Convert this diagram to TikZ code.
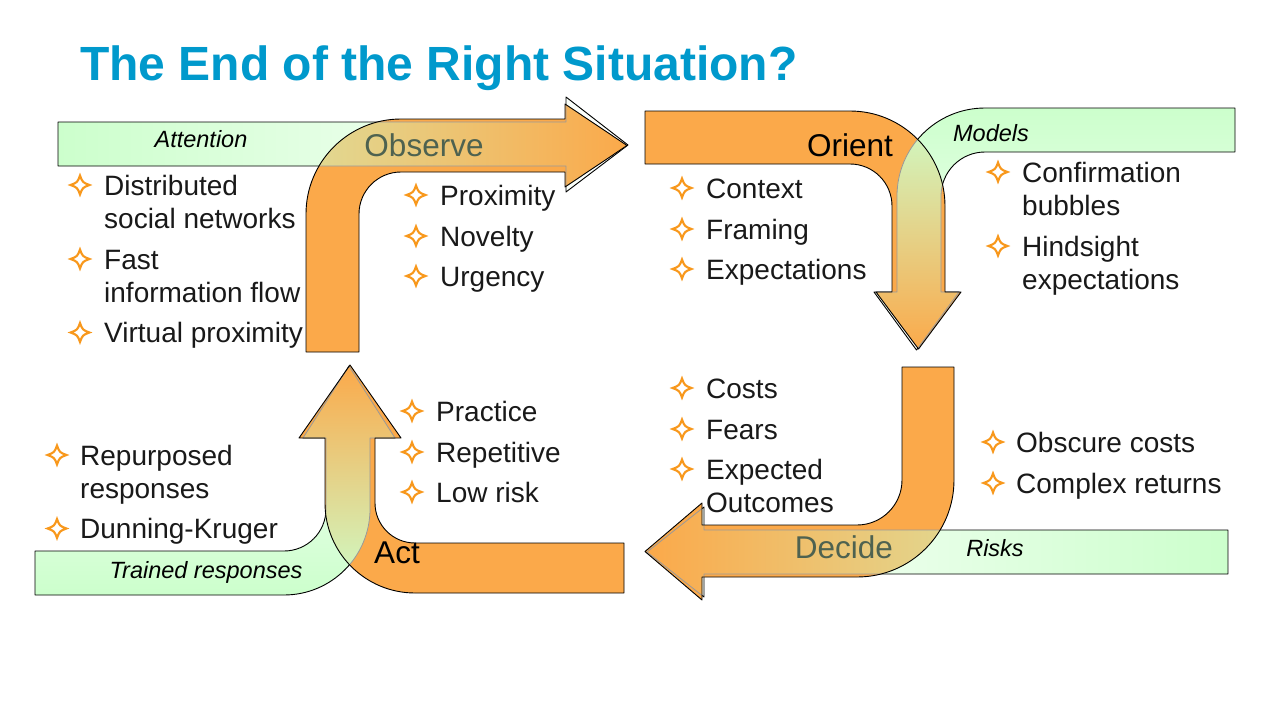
\documentclass[tikz,border=0pt]{standalone}
\usepackage{fontspec}
\setmainfont{Liberation Sans}
\definecolor{org}{RGB}{251,169,74}
\definecolor{grn}{RGB}{204,255,204}
\definecolor{ttl}{RGB}{0,153,204}
\definecolor{starc}{RGB}{248,152,28}
\definecolor{txt}{RGB}{25,25,25}
\definecolor{fadedtxt}{RGB}{78,98,80}
\begin{document}
\begin{tikzpicture}[x=1pt,y=-1pt,
  lbl/.style={font=\fontsize{28}{34}\selectfont, text=txt, anchor=base west, inner sep=0pt},
  tag/.style={font=\fontsize{23.5}{28}\selectfont\itshape, text=black, anchor=base, inner sep=0pt},
  stage/.style={font=\fontsize{31.5}{36}\selectfont, anchor=base, inner sep=0pt},
  outl/.style={draw=black, line width=0.9pt, line join=round},
  ghost/.style={draw=black!40, line width=0.8pt, line join=round},
  starpic/.pic={\draw[starc, line width=2.1pt, line join=miter, miter limit=4]
     (0,-9.5) .. controls (2.6,-2.6) .. (9.5,0) .. controls (2.6,2.6) .. (0,9.5)
     .. controls (-2.6,2.6) .. (-9.5,0) .. controls (-2.6,-2.6) .. (0,-9.5) -- cycle;}]
\useasboundingbox (0,0) rectangle (1280,720);
\fill[white] (0,0) rectangle (1280,720);

% ---------- shape outlines ----------
\def\pObs{(306,352) -- (306,214) arc[start angle=180,end angle=270,radius=95] -- (565,119) -- (565,104) -- (627,145.5) -- (565,187) -- (565,172) -- (401,172) arc[start angle=270,end angle=180,radius=42] -- (359,352) -- cycle}
\def\gAtt{(58,122) -- (566,122) -- (566,97) -- (628,145) -- (566,192) -- (566,166) -- (58,166) -- cycle}
\def\pOri{(645,111) -- (850,111) arc[start angle=270,end angle=360,radius=95] -- (945,292) -- (961,292) -- (918.5,349) -- (876,292) -- (892,292) -- (892,206) arc[start angle=0,end angle=-90,radius=42] -- (645,164) -- cycle}
\def\gMod{(1235,108) -- (985,108) arc[start angle=270,end angle=180,radius=88] -- (897,292) -- (874,292) -- (916.5,350) -- (959,292) -- (941,292) -- (941,196) arc[start angle=180,end angle=270,radius=44] -- (1235,152) -- cycle}
\def\pDec{(902,367) -- (954,367) -- (954,480) arc[start angle=0,end angle=90,radius=97] -- (702,577) -- (702,600) -- (645,551.5) -- (702,503) -- (702,525) -- (857,525) arc[start angle=90,end angle=0,radius=45] -- cycle}
\def\gRis{(1228,530) -- (704,530) -- (704,507) -- (647,552) -- (704,597) -- (704,574) -- (1228,574) -- cycle}
\def\pAct{(624,543) -- (415,543) arc[start angle=90,end angle=180,radius=40] -- (375,438) -- (401,438) -- (350,365) -- (299,438) -- (325,438) -- (325,503) arc[start angle=180,end angle=90,radius=90] -- (624,593) -- cycle}
\def\gTra{(35,551) -- (284,551) arc[start angle=90,end angle=0,radius=42] -- (326,438) -- (303,438) -- (349,366) -- (395,438) -- (370,438) -- (370,509) arc[start angle=0,end angle=90,radius=86] -- (35,595) -- cycle}

% ---------- Observe / Attention ----------
\begin{scope}\clip \gAtt; \shade[left color=grn,right color=white] (58,90) rectangle (628,200);\end{scope}
\draw[outl] \gAtt;
\fill[org] \pObs;
\begin{scope}\clip \gAtt; \clip \pObs; \shade[left color=grn,right color=org] (58,90) rectangle (628,200);\end{scope}
\begin{scope}\clip \pObs; \draw[ghost] \gAtt;\end{scope}
\draw[outl] \pObs;

% ---------- Orient / Models ----------
\begin{scope}\clip \gMod; \shade[top color=grn,bottom color=white] (870,108) rectangle (1240,350);\end{scope}
\draw[outl] \gMod;
\fill[org] \pOri;
\begin{scope}\clip \gMod; \clip \pOri; \shade[top color=grn,bottom color=org] (870,108) rectangle (1240,350);\end{scope}
\begin{scope}\clip \pOri; \draw[ghost] \gMod;\end{scope}
\draw[outl] \pOri;

% ---------- Decide / Risks ----------
\begin{scope}\clip \gRis; \shade[left color=white,right color=grn] (647,500) rectangle (1228,600);\end{scope}
\draw[outl] \gRis;
\fill[org] \pDec;
\begin{scope}\clip \gRis; \clip \pDec; \shade[left color=org,right color=grn] (647,500) rectangle (1228,600);\end{scope}
\begin{scope}\clip \pDec; \draw[ghost] \gRis;\end{scope}
\draw[outl] \pDec;

% ---------- Act / Trained responses ----------
\begin{scope}\clip \gTra; \shade[top color=white,bottom color=grn] (30,366) rectangle (400,595);\end{scope}
\draw[outl] \gTra;
\fill[org] \pAct;
\begin{scope}\clip \gTra; \clip \pAct; \shade[top color=org,bottom color=grn] (30,366) rectangle (400,595);\end{scope}
\begin{scope}\clip \pAct; \draw[ghost] \gTra;\end{scope}
\draw[outl] \pAct;

% ---------- title ----------
\node[font=\fontsize{48}{56}\selectfont\bfseries, text=ttl, anchor=base west, inner sep=0pt] (title) at (80,80) {The End of the Right Situation?};

% ---------- stage labels ----------
\node[stage, text=fadedtxt] (observe) at (424,156) {Observe};
\node[stage, text=black] (orient) at (850,156) {Orient};
\node[stage, text=fadedtxt] (decide) at (844,558) {Decide};
\node[stage, text=black] (act) at (397,563) {Act};

\node[tag] (attention) at (201,147.5) {Attention};
\node[tag] (models) at (991,141.5) {Models};
\node[tag] (risks) at (995,556.5) {Risks};
\node[tag] (trained) at (206,578.5) {Trained responses};

% ---------- bullet stars ----------
\foreach \sx/\sy in {80/185, 80/259, 80/332.5, 416/195, 416/236, 416/276,
  682/188, 682/229, 682/269, 998/172, 998/246, 682/388, 682/429, 682/469,
  993/442, 993/483, 412/411, 412/452, 412/492, 57/455, 57/528.5}
  \pic at (\sx,\sy) {starpic};

% ---------- bullet texts ----------
\node[lbl] (t1a) at (104,195) {Distributed};
\node[lbl] (t1b) at (104,228.5) {social networks};
\node[lbl] (t2a) at (104,269) {Fast};
\node[lbl] (t2b) at (104,302.5) {information flow};
\node[lbl] (t3) at (104,342.5) {Virtual proximity};
\node[lbl] (t4) at (440,205) {Proximity};
\node[lbl] (t5) at (440,246) {Novelty};
\node[lbl] (t6) at (440,286) {Urgency};
\node[lbl] (t7) at (706,198) {Context};
\node[lbl] (t8) at (706,239) {Framing};
\node[lbl] (t9) at (706,279) {Expectations};
\node[lbl] (t10a) at (1022,182) {Confirmation};
\node[lbl] (t10b) at (1022,215.5) {bubbles};
\node[lbl] (t11a) at (1022,256) {Hindsight};
\node[lbl] (t11b) at (1022,289.5) {expectations};
\node[lbl] (t12) at (706,398) {Costs};
\node[lbl] (t13) at (706,439) {Fears};
\node[lbl] (t14a) at (706,479) {Expected};
\node[lbl] (t14b) at (706,512.5) {Outcomes};
\node[lbl] (t15) at (1016,452) {Obscure costs};
\node[lbl] (t16) at (1016,493) {Complex returns};
\node[lbl] (t17) at (436,421) {Practice};
\node[lbl] (t18) at (436,462) {Repetitive};
\node[lbl] (t19) at (436,502) {Low risk};
\node[lbl] (t20a) at (80,465) {Repurposed};
\node[lbl] (t20b) at (80,498.5) {responses};
\node[lbl] (t21) at (80,538.5) {Dunning-Kruger};
\end{tikzpicture}
\end{document}
